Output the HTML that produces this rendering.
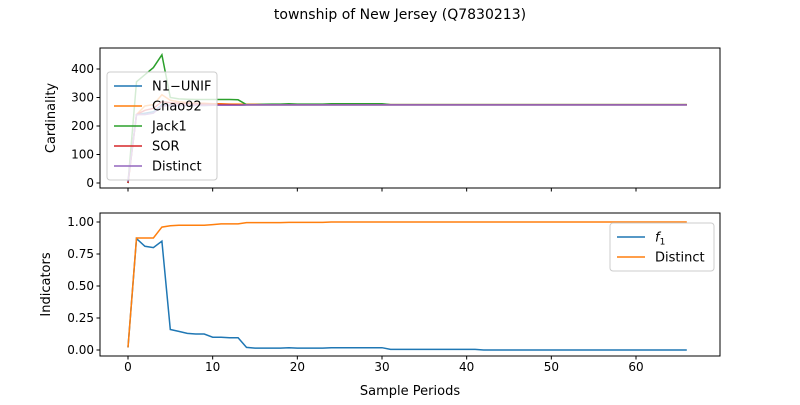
<!DOCTYPE html>
<html><head><meta charset="utf-8"><style>
body{margin:0;background:#fff;font-family:"Liberation Sans","DejaVu Sans",sans-serif}
text{font-family:"DejaVu Sans","Liberation Sans",sans-serif}
</style></head><body>
<svg id="c" width="800" height="400" xmlns="http://www.w3.org/2000/svg"></svg>
<script>
const periods = Array.from({length:67},(_,i)=>i);
const jack1 = [0,355,380,405,450,300,295,294,293,293,293,293,293,292,275,275,276,277,277,278,277,277,277,277,278,278,278,278,278,278,278,275,275,275,275,275,275,275,275,275,275,275,275,275,275,275,275,275,275,275,275,275,275,275,275,275,275,275,275,275,275,275,275,275,275,275,275];
const chao92 = [0,240,270,275,310,290,285,282,280,280,278,278,277,277,276,276,276,276,276,276,276,276,276,276,276,276,276,276,276,276,276,275,275,275,275,275,275,275,275,275,275,275,275,275,275,275,275,275,275,275,275,275,275,275,275,275,275,275,275,275,275,275,275,275,275,275,275];
const sor = [0,240,255,262,285,282,280,279,278,277,276,275,275,274,274,274,274,274,274,274,274,274,274,274,274,274,274,274,274,274,274,274,274,274,274,274,274,274,274,274,274,274,274,274,274,274,274,274,274,274,274,274,274,274,274,274,274,274,274,274,274,274,274,274,274,274,274];
const n1unif = [0,240,245,250,275,273,272,272,272,272,273,273,273,273,274,274,274,274,274,274,274,274,274,274,274,274,274,274,274,274,274,274,274,274,274,274,274,274,274,274,274,274,274,274,274,274,274,274,274,274,274,274,274,274,274,274,274,274,274,274,274,274,274,274,274,274,274];
const distinct = [5,240,240,245,270,272,273,273,273,273,273,273,273,273,274,274,274,274,274,274,274,274,274,274,274,274,274,274,274,274,274,274,274,274,274,274,274,274,274,274,274,274,274,274,274,274,274,274,274,274,274,274,274,274,274,274,274,274,274,274,274,274,274,274,274,274,274];
const f1 = [0.02,0.87,0.81,0.80,0.85,0.16,0.145,0.13,0.125,0.125,0.10,0.10,0.095,0.095,0.02,0.015,0.015,0.015,0.015,0.018,0.015,0.015,0.015,0.015,0.018,0.018,0.018,0.018,0.018,0.018,0.018,0.005,0.005,0.005,0.005,0.005,0.005,0.005,0.005,0.005,0.005,0.005,0,0,0,0,0,0,0,0,0,0,0,0,0,0,0,0,0,0,0,0,0,0,0,0,0];
const distinctInd = [0.02,0.875,0.875,0.875,0.96,0.97,0.975,0.975,0.975,0.975,0.98,0.985,0.985,0.985,0.995,0.995,0.995,0.995,0.995,0.997,0.997,0.997,0.997,0.997,1,1,1,1,1,1,1,1,1,1,1,1,1,1,1,1,1,1,1,1,1,1,1,1,1,1,1,1,1,1,1,1,1,1,1,1,1,1,1,1,1,1,1];
const xTicks=[0,10,20,30,40,50,60];
const yTicksTop=[0,100,200,300,400];
const yTicksBot=[0,0.25,0.5,0.75,1.0];
const yTickBotLabels=["0.00","0.25","0.50","0.75","1.00"];

const NS="http://www.w3.org/2000/svg";
const svg=document.getElementById('c');
function el(t,a,p){const e=document.createElementNS(NS,t);for(const k in a)e.setAttribute(k,a[k]);(p||svg).appendChild(e);return e;}
const X=v=>128+v*(636-128)/60;
const Yt=v=>183-v*(183-69)/400;
const Yb=v=>350-v*128;
const L=100,R=720;

let t=el('text',{x:400,y:19,'text-anchor':'middle','font-size':14});t.textContent='township of New Jersey (Q7830213)';


function line(data,Y,color,name){
  const d=data.map((v,i)=>(i?'L':'M')+X(periods[i]).toFixed(1)+','+Y(v).toFixed(1)).join('');
  const p=el('path',{d,fill:'none',stroke:color,'stroke-width':1.5});
  
}
function axes(top,bot,Y,ticks,labels,ylabel,name,showX){
  const g=el('g',{});
  el('rect',{x:L,y:top,width:R-L,height:bot-top,fill:'none',stroke:'#000','stroke-width':1},g);
  ticks.forEach((v,i)=>{el('line',{x1:L-3.5,x2:L,y1:Y(v),y2:Y(v),stroke:'#000'},g);
    const tx=el('text',{x:L-6,y:Y(v)+4,'text-anchor':'end','font-size':12,fill:'#000'},g);tx.textContent=labels[i];});
  xTicks.forEach(v=>{el('line',{x1:X(v),x2:X(v),y1:bot,y2:bot+3.5,stroke:'#000'},g);
    if(showX){const tx=el('text',{x:X(v),y:bot+15,'text-anchor':'middle','font-size':12},g);tx.textContent=v;}});
  const yl=el('text',{x:0,y:0,'text-anchor':'middle','font-size':13,transform:`translate(${showX?50:55},${(top+bot)/2}) rotate(-90)`},g);yl.textContent=ylabel;
}
axes(48,188,Yt,yTicksTop,yTicksTop.map(String),'Cardinality','top-axes',false);
axes(213,356,Yb,yTicksBot,yTickBotLabels,'Indicators','bottom-axes',true);
let xl=el('text',{x:410,y:395,'text-anchor':'middle','font-size':13});xl.textContent='Sample Periods';


line(n1unif,Yt,'#1f77b4','n1unif-line');
line(chao92,Yt,'#ff7f0e','chao92-line');
line(jack1,Yt,'#2ca02c','jack1-line');
line(sor,Yt,'#d62728','sor-line');
line(distinct,Yt,'#9467bd','distinct-line');
line(f1,Yb,'#1f77b4','f1-line');
line(distinctInd,Yb,'#ff7f0e','distinct-indicator-line');

function legend(x,y,w,entries,name){
  const g=el('g',{});
  el('rect',{x,y,width:w,height:entries.length*20+8,rx:3,fill:'#fff','fill-opacity':0.8,stroke:'#ccc'},g);
  entries.forEach((e,i)=>{const yy=y+14+i*20;
    el('line',{x1:x+7,x2:x+35,y1:yy,y2:yy,stroke:e[1],'stroke-width':1.5},g);
    const tx=el('text',{x:x+45,y:yy+4.5,'font-size':13},g);tx.innerHTML=e[0];});
}
legend(107,72,110,[['N1−UNIF','#1f77b4'],['Chao92','#ff7f0e'],['Jack1','#2ca02c'],['SOR','#d62728'],['Distinct','#9467bd']],'top-legend');
legend(610,223,104,[['<tspan font-style="italic">f</tspan><tspan font-size="9" dy="3">1</tspan>','#1f77b4'],['Distinct','#ff7f0e']],'bottom-legend');
</script>
</body></html>
